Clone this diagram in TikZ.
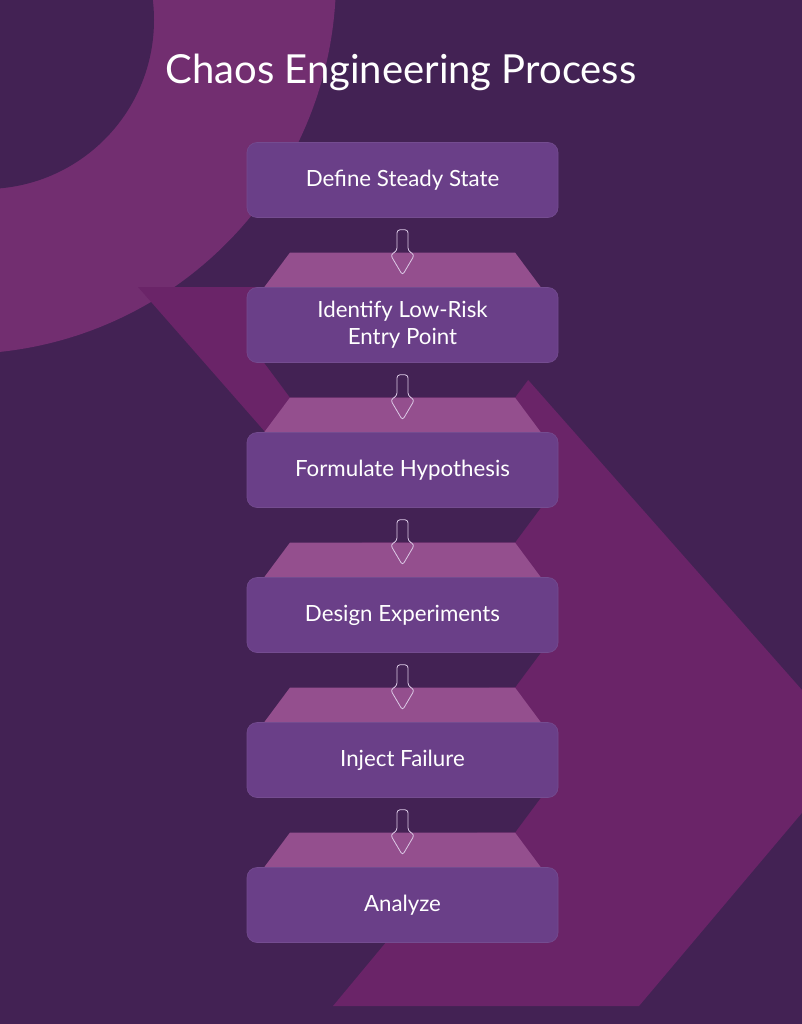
\documentclass[tikz,border=0pt]{standalone}
\usepackage{fontspec}
\setmainfont{Lato}
\usetikzlibrary{calc,positioning}
\definecolor{bgpurple}{HTML}{432254}
\definecolor{ringpurple}{HTML}{722E70}
\definecolor{chevpurple}{HTML}{6A2468}
\definecolor{boxpurple}{HTML}{6A3F88}
\definecolor{lidpink}{HTML}{944F8E}
\definecolor{arrowline}{HTML}{DCCAE6}
\tikzset{
  stepbox/.style={fill=boxpurple, draw=boxpurple!93!white, line width=0.6pt, rounded corners=10pt,
    minimum width=311pt, minimum height=75pt, inner sep=0pt, text=white, align=center,
    font=\fontsize{22.3}{27}\selectfont},
  flowarrow/.style={draw=arrowline, line width=0.8pt, rounded corners=3pt},
}

\begin{document}
\begin{tikzpicture}[x=1pt,y=-1pt]
		\useasboundingbox (0,0) rectangle (802,1024);
		\clip (0,0) rectangle (802,1024);
		\fill[bgpurple] (0,0) rectangle (802,1024);
		% ring top left
		\fill[ringpurple] (-40,-22) circle [radius=376pt];
		\fill[bgpurple] (-15,20) circle [radius=169pt];
		% big chevron
		\fill[chevpurple] (138,287) -- (446,287) -- (855,750) -- (639,1006) -- (333,1006) -- (545,751) -- cycle;
		\node[text=white, font=\fontsize{40}{44}\selectfont] (title) at (401,72) {Chaos Engineering Process};
		\foreach \i in {1,...,5} {
			\pgfmathsetmacro\yb{217.5+145*(\i-1)}
			\fill[bgpurple] (264,\yb) -- (541,\yb) -- (515,\yb+35) -- (290,\yb+35) -- cycle;
			\fill[lidpink] (290,\yb+35) -- (515,\yb+35) -- (541,\yb+70) -- (264,\yb+70) -- cycle;
		}
		\foreach \i/\txt in {1/{Define Steady State},2/{Identify Low-Risk\\Entry Point},3/{Formulate Hypothesis},
			4/{Design Experiments},5/{Inject Failure},6/{Analyze}}
			\node[stepbox] (s\i) at (402.5,{180+145*(\i-1)}) {\txt};
		\foreach \i/\j in {1/2,2/3,3/4,4/5,5/6}
			\draw[flowarrow] ($(s\i.south)+(-5.5,12)$) -- ($(s\i.south)+(-5.5,33)$) -- ($(s\i.south)+(-12,37)$)
				-- ($(s\j.north)+(0,-12)$) -- ($(s\i.south)+(12,37)$) -- ($(s\i.south)+(5.5,33)$)
				-- ($(s\i.south)+(5.5,12)$) -- cycle;
\end{tikzpicture}
\end{document}
